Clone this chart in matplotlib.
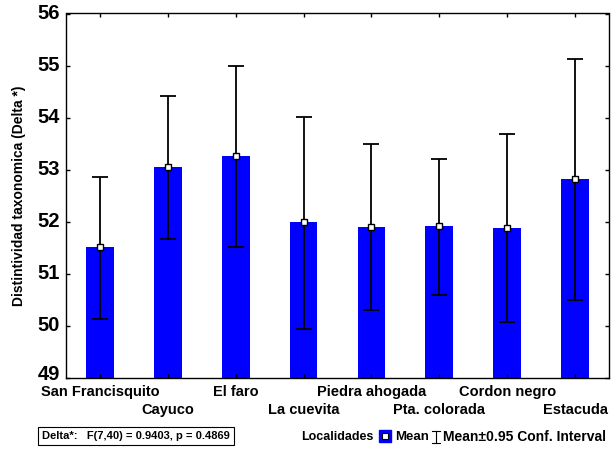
import matplotlib
matplotlib.use("Agg")
import matplotlib.pyplot as plt
from matplotlib.lines import Line2D
import matplotlib.transforms as mtransforms
import numpy as np

plt.rcParams['font.family'] = ['Liberation Sans', 'DejaVu Sans']
plt.rcParams['font.weight'] = 'bold'

# Mean taxonomic distinctness per locality with 95% confidence limits
localidades = ['San Francisquito', 'Cayuco', 'El faro', 'La cuevita',
               'Piedra ahogada', 'Pta. colorada', 'Cordon negro', 'Estacuda']
media = [51.51, 53.05, 53.26, 52.00, 51.90, 51.91, 51.89, 52.82]
ic_inf = [50.13, 51.66, 51.51, 49.95, 50.30, 50.60, 50.08, 50.49]
ic_sup = [52.86, 54.42, 55.00, 54.02, 53.49, 53.20, 53.68, 55.13]
yticks = [49, 50, 51, 52, 53, 54, 55, 56]

W, H = 613, 450
fig = plt.figure(figsize=(W / 100, H / 100), dpi=100)
ax = fig.add_axes([66 / W, 1 - 378 / H, (609 - 66) / W, (378 - 13.5) / H])

x = np.arange(len(localidades))
media = np.array(media)
err = [media - np.array(ic_inf), np.array(ic_sup) - media]

ax.bar(x, media - 49, bottom=49, width=0.41, color='#0000ff', zorder=1)
ax.errorbar(x, media, yerr=err, fmt='none', ecolor='black', elinewidth=1.3,
            capsize=5.5, capthick=1.3, zorder=2)
ax.plot(x, media, linestyle='none', marker='s', markersize=5,
        markerfacecolor='white', markeredgecolor='black', markeredgewidth=1,
        zorder=3)

ax.set_xlim(-0.5, len(localidades) - 0.5)
ax.set_ylim(49, 56)
ax.set_yticks(yticks)
ax.set_yticklabels([])

# y tick labels as text; the lowest one sits a little higher
ytrans = mtransforms.blended_transform_factory(ax.transAxes, ax.transData)
for v in yticks:
    dy = 4 if v == yticks[0] else 0
    t = mtransforms.offset_copy(ytrans, fig=fig, x=-6, y=dy, units='dots')
    ax.text(0, v, str(v), transform=t, ha='right', va='center',
            fontsize=14.5, fontweight='bold')

# staggered category labels on two rows
ax.set_xticks(x)
ax.set_xticklabels([])
trans = mtransforms.blended_transform_factory(ax.transData, fig.transFigure)
for i, nombre in enumerate(localidades):
    fila_y = 392 if i % 2 == 0 else 410
    ax.text(x[i], 1 - fila_y / H, nombre, transform=trans, ha='center',
            va='center', fontsize=10.5, fontweight='bold')

ax.tick_params(direction='in', top=True, right=True, length=3, width=1)
for s in ax.spines.values():
    s.set_linewidth(1)

fig.text(19 / W, 1 - 196 / H, 'Distintividad taxonomica (Delta *)',
         rotation=90, ha='center', va='center', fontsize=10, fontweight='bold')

# ANOVA summary box
fig.text(42 / W, 1 - 436 / H, 'Delta*:   F(7,40) = 0.9403, p = 0.4869',
         ha='left', va='center', fontsize=8, fontweight='bold',
         bbox=dict(boxstyle='square,pad=0.4', fc='white', ec='black', lw=0.8))

# legend row
fig.text(301 / W, 1 - 437 / H, 'Localidades', ha='left', va='center',
         fontsize=9, fontweight='bold')
fig.add_artist(Line2D([385 / W], [1 - 436 / H], transform=fig.transFigure,
                      marker='s', markersize=9, markerfacecolor='#0000ff',
                      markeredgecolor='#0000ff', linestyle='none'))
fig.add_artist(Line2D([385 / W], [1 - 436 / H], transform=fig.transFigure,
                      marker='s', markersize=4, markerfacecolor='white',
                      markeredgecolor='black', markeredgewidth=0.8,
                      linestyle='none'))
fig.text(395 / W, 1 - 437 / H, 'Mean', ha='left', va='center',
         fontsize=9.5, fontweight='bold')
xb, y0, y1 = 436, 431, 443
fig.add_artist(Line2D([xb / W, xb / W], [1 - y0 / H, 1 - y1 / H],
                      transform=fig.transFigure, color='black', lw=0.8))
for yy in (y0, y1):
    fig.add_artist(Line2D([(xb - 4) / W, (xb + 4) / W], [1 - yy / H, 1 - yy / H],
                          transform=fig.transFigure, color='black', lw=0.8))
fig.text(443 / W, 1 - 437 / H, 'Mean\u00b10.95 Conf. Interval', ha='left',
         va='center', fontsize=10, fontweight='bold')

fig.savefig('out.png', dpi=100)
